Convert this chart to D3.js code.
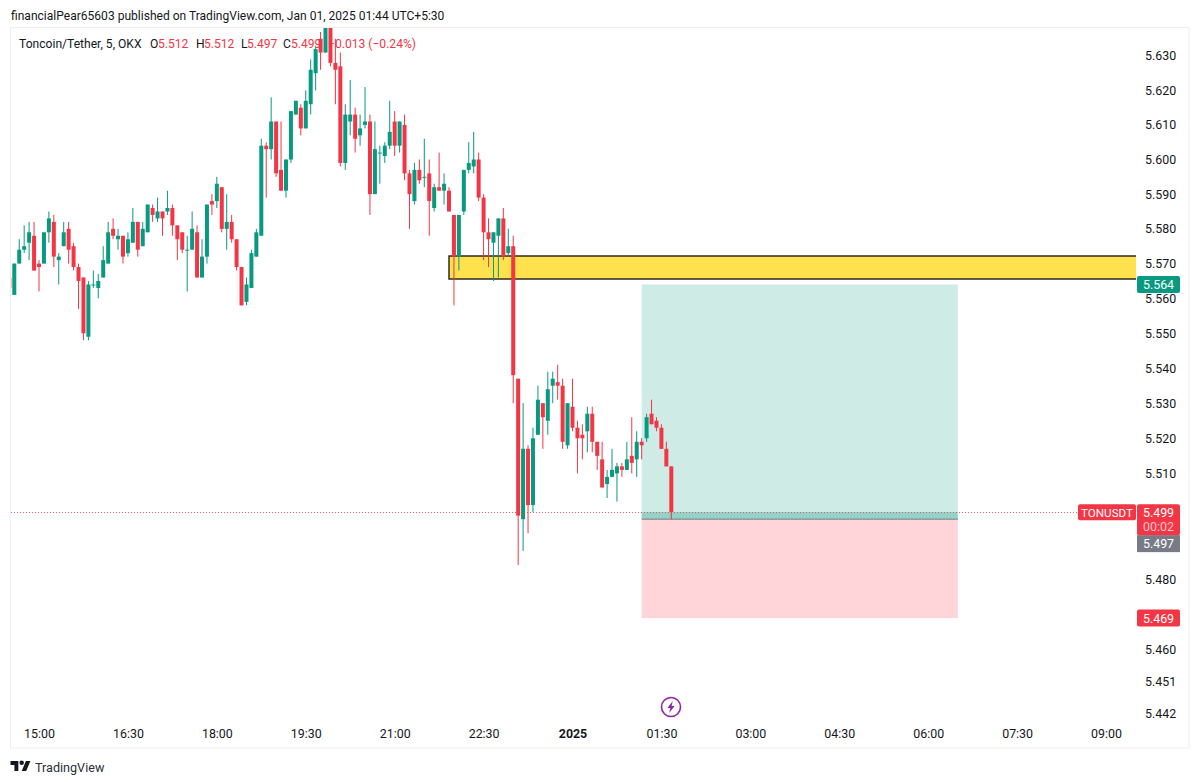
<!DOCTYPE html>
<html>
<head>
  <title>Toncoin/Tether, 5, OKX</title>
  <meta charset="utf-8">
  <script src="https://d3js.org/d3.v7.min.js"></script>
</head>
<body>
  <svg height="784" width="1200"></svg>

<script>
// 5 minute bars, the first one is 14:30 on Dec 31
var firstBar = new Date(Date.UTC(2024, 11, 31, 14, 30));
var opens = [
  5.566,5.561,5.570,5.574,5.576,5.578,5.570,5.570,5.579,5.582,5.571,5.575,5.580,5.575,5.569,5.566,5.549,5.564,5.563,5.566,
  5.570,5.580,5.577,5.578,5.573,5.576,5.582,5.575,5.579,5.586,5.583,5.585,5.585,5.586,5.581,5.579,5.574,5.574,5.579,5.566,
  5.572,5.588,5.588,5.592,5.580,5.582,5.577,5.569,5.559,5.563,5.572,5.578,5.604,5.603,5.611,5.597,5.591,5.600,5.613,5.615,
  5.609,5.616,5.625,5.635,5.631,5.640,5.628,5.627,5.599,5.611,5.613,5.607,5.610,5.611,5.590,5.602,5.601,5.604,5.611,5.604,
  5.610,5.596,5.588,5.597,5.595,5.596,5.586,5.592,5.591,5.591,5.584,5.572,5.585,5.597,5.598,5.600,5.589,5.579,5.576,5.578,
  5.583,5.573,5.575,5.537,5.497,5.517,5.501,5.521,5.530,5.525,5.535,5.536,5.535,5.518,5.529,5.523,5.521,5.522,5.527,5.519,
  5.514,5.507,5.509,5.510,5.512,5.511,5.515,5.514,5.519,5.520,5.527,5.525,5.523,5.517,5.512
];
var highs = [
  5.566,5.570,5.577,5.581,5.582,5.582,5.571,5.579,5.585,5.584,5.573,5.582,5.582,5.576,5.570,5.566,5.565,5.568,5.567,5.575,
  5.582,5.583,5.580,5.578,5.579,5.586,5.582,5.582,5.587,5.587,5.589,5.585,5.591,5.587,5.581,5.579,5.578,5.585,5.581,5.577,
  5.587,5.590,5.595,5.592,5.590,5.584,5.577,5.569,5.566,5.574,5.580,5.606,5.605,5.618,5.611,5.611,5.600,5.614,5.617,5.616,
  5.620,5.629,5.633,5.637,5.640,5.640,5.635,5.631,5.616,5.623,5.615,5.613,5.621,5.613,5.611,5.604,5.605,5.617,5.614,5.611,
  5.613,5.597,5.599,5.600,5.606,5.600,5.593,5.602,5.596,5.592,5.584,5.584,5.597,5.605,5.608,5.602,5.590,5.583,5.579,5.583,
  5.586,5.580,5.578,5.537,5.530,5.518,5.523,5.535,5.530,5.539,5.539,5.541,5.537,5.530,5.537,5.525,5.524,5.529,5.529,5.519,
  5.519,5.511,5.517,5.513,5.513,5.519,5.526,5.522,5.520,5.527,5.531,5.526,5.524,5.519,5.512
];
var lows = [
  5.563,5.561,5.570,5.573,5.571,5.568,5.562,5.570,5.576,5.569,5.564,5.575,5.570,5.568,5.557,5.548,5.548,5.563,5.560,5.566,
  5.570,5.577,5.574,5.570,5.572,5.576,5.572,5.575,5.579,5.582,5.582,5.578,5.584,5.578,5.571,5.573,5.562,5.574,5.566,5.566,
  5.570,5.584,5.586,5.579,5.574,5.576,5.568,5.558,5.558,5.563,5.572,5.578,5.589,5.600,5.595,5.591,5.589,5.599,5.613,5.607,
  5.609,5.613,5.620,5.626,5.631,5.627,5.616,5.598,5.597,5.607,5.602,5.604,5.609,5.584,5.590,5.593,5.599,5.603,5.601,5.602,
  5.594,5.580,5.587,5.593,5.592,5.578,5.585,5.591,5.587,5.585,5.558,5.568,5.584,5.596,5.596,5.588,5.571,5.569,5.565,5.566,
  5.571,5.572,5.530,5.484,5.488,5.493,5.499,5.521,5.517,5.521,5.530,5.531,5.517,5.517,5.522,5.510,5.514,5.516,5.516,5.511,
  5.506,5.503,5.509,5.502,5.509,5.511,5.510,5.509,5.514,5.519,5.524,5.522,5.517,5.512,5.497
];
var closes = [
  5.563,5.570,5.574,5.575,5.579,5.568,5.569,5.579,5.583,5.572,5.572,5.579,5.574,5.569,5.565,5.550,5.564,5.564,5.565,5.571,
  5.579,5.578,5.578,5.572,5.577,5.582,5.574,5.580,5.587,5.584,5.585,5.583,5.586,5.581,5.577,5.574,5.574,5.580,5.566,5.572,
  5.587,5.587,5.593,5.580,5.582,5.577,5.569,5.558,5.564,5.573,5.579,5.604,5.603,5.611,5.596,5.591,5.600,5.614,5.617,5.609,
  5.617,5.626,5.632,5.631,5.639,5.628,5.626,5.599,5.613,5.613,5.606,5.609,5.611,5.590,5.603,5.602,5.604,5.608,5.604,5.611,
  5.596,5.590,5.597,5.594,5.595,5.588,5.592,5.591,5.593,5.585,5.572,5.584,5.597,5.599,5.600,5.589,5.579,5.577,5.579,5.583,
  5.572,5.575,5.538,5.498,5.517,5.501,5.520,5.531,5.526,5.534,5.537,5.535,5.519,5.530,5.523,5.520,5.520,5.527,5.519,5.515,
  5.506,5.509,5.511,5.512,5.511,5.514,5.513,5.519,5.518,5.526,5.524,5.523,5.517,5.512,5.499
];

var priceTicks = [5.63,5.62,5.61,5.6,5.59,5.58,5.57,5.56,5.55,5.54,5.53,5.52,5.51,5.48,5.46,5.451,5.442];
var timeTicks = ["15:00","16:30","18:00","19:30","21:00","22:30","2025","01:30","03:00","04:30","06:00","07:30","09:00"];

// drawings on the chart
var zoneTop = 5.5722, zoneBottom = 5.5656, zoneStart = new Date(Date.UTC(2024, 11, 31, 21, 55));
var entry = 5.497, target = 5.564, stop = 5.469, lastPrice = 5.499;
var posStart = new Date(Date.UTC(2025, 0, 1, 1, 10)), posEnd = new Date(Date.UTC(2025, 0, 1, 6, 30));

var green = "#089981", red = "#F23645", grey = "#787B86", ink = "#131722";
var font = "Roboto, sans-serif";

var bars = opens.map(function (d, i) {
  return {t: new Date(firstBar.getTime() + i * 300000), o: d, h: highs[i], l: lows[i], c: closes[i]};
});

var svg = d3.select("svg").style("display", "block").style("background", "#fff").style("font-family", font);

var x = d3.scaleUtc()
  .domain([new Date(Date.UTC(2024, 11, 31, 15, 0)), new Date(Date.UTC(2025, 0, 1, 9, 0))])
  .range([39, 1106]);

// the price pane was on a log scale, the tick spacing grows a little going down
var y = d3.scaleLog().domain([5.442, 5.63]).range([714, 56]);

var paneLeft = 11, paneRight = 1136, paneTop = 28, paneBottom = 748;

svg.append("clipPath").attr("id", "pane").append("rect")
  .attr("x", paneLeft).attr("y", paneTop)
  .attr("width", paneRight - paneLeft).attr("height", paneBottom - paneTop);

// frame
svg.append("rect").attr("x", 10.5).attr("y", 27.5).attr("width", 1178.5).attr("height", 720.5)
  .attr("fill", "none").attr("stroke", "#eeeeee");

svg.append("text").attr("x", 11).attr("y", 20).attr("font-size", 12.05).attr("fill", ink)
  .text("financialPear65603 published on TradingView.com, Jan 01, 2025 01:44 UTC+5:30");

// legend sits under the candles
var legend = [
  ["Toncoin/Tether, 5, OKX", 19, ink], ["O", 150, ink], ["5.512", 158, red], ["H", 196, ink], ["5.512", 204, red],
  ["L", 241, ink], ["5.497", 247, red], ["C", 283, ink], ["5.499", 291, red], ["\u22120.013 (\u22120.24%)", 328, red]
];
svg.append("g").selectAll("text").data(legend).join("text")
  .attr("x", function (d) { return d[1]; }).attr("y", 48)
  .attr("font-size", 12.1).attr("fill", function (d) { return d[2]; })
  .text(function (d) { return d[0]; });

// yellow zone goes below the candles, open on the right side
var zoneX = x(zoneStart);
svg.append("rect")
  .attr("x", zoneX).attr("y", y(zoneTop))
  .attr("width", paneRight - zoneX).attr("height", y(zoneBottom) - y(zoneTop))
  .attr("fill", "#FFE04D");
svg.append("path")
  .attr("d", "M" + paneRight + "," + y(zoneTop) + "H" + zoneX + "V" + y(zoneBottom) + "H" + paneRight)
  .attr("fill", "none").attr("stroke", "#2b2b1e").attr("stroke-width", 1.5);

// long position tool
var posX = x(posStart), posW = x(posEnd) - posX;
svg.append("rect").attr("x", posX).attr("width", posW)
  .attr("y", y(target)).attr("height", y(entry) - y(target))
  .attr("fill", green).attr("fill-opacity", 0.2);
svg.append("rect").attr("x", posX).attr("width", posW)
  .attr("y", y(entry)).attr("height", y(stop) - y(entry))
  .attr("fill", "#FF2D45").attr("fill-opacity", 0.2);
svg.append("rect").attr("x", posX).attr("width", posW)
  .attr("y", y(lastPrice)).attr("height", y(entry) - y(lastPrice))
  .attr("fill", green).attr("fill-opacity", 0.3);
svg.append("line").attr("x1", posX).attr("x2", posX + posW)
  .attr("y1", y(entry)).attr("y2", y(entry)).attr("stroke", grey);

var plot = svg.append("g").attr("clip-path", "url(#pane)");

plot.selectAll("line.wick").data(bars).join("line").attr("class", "wick")
  .attr("x1", function (d) { return x(d.t); }).attr("x2", function (d) { return x(d.t); })
  .attr("y1", function (d) { return y(d.h); }).attr("y2", function (d) { return y(d.l); })
  .attr("stroke", function (d) { return d.c >= d.o ? green : red; });

plot.selectAll("rect.body").data(bars).join("rect").attr("class", "body")
  .attr("x", function (d) { return x(d.t) - 2; }).attr("width", 4)
  .attr("y", function (d) { return y(Math.max(d.o, d.c)); })
  .attr("height", function (d) { return Math.max(1, Math.abs(y(d.o) - y(d.c))); })
  .attr("fill", function (d) { return d.c >= d.o ? green : red; });

// last price line
svg.append("line").attr("x1", paneLeft).attr("x2", paneRight)
  .attr("y1", Math.round(y(lastPrice)) + 0.5).attr("y2", Math.round(y(lastPrice)) + 0.5)
  .attr("stroke", red).attr("stroke-dasharray", "1 2").attr("stroke-opacity", 0.8);

// axes
var yAxis = d3.axisRight(y).tickValues(priceTicks).tickSize(0).tickPadding(0).tickFormat(d3.format(".3f"));
var yG = svg.append("g").attr("transform", "translate(1145,0)").call(yAxis);
yG.select(".domain").remove();
yG.selectAll("text").attr("font-size", 12.4).attr("font-family", font).attr("fill", ink);

var tickDates = timeTicks.map(function (d, i) { return new Date(Date.UTC(2024, 11, 31, 15, 0) + i * 5400000); });
var xAxis = d3.axisBottom(x).tickValues(tickDates).tickSize(0).tickPadding(0)
  .tickFormat(function (d, i) { return timeTicks[i]; });
var xG = svg.append("g").attr("transform", "translate(0,729)").call(xAxis);
xG.select(".domain").remove();
xG.selectAll("text").attr("font-size", 12.4).attr("font-family", font).attr("fill", ink)
  .attr("font-weight", function (d, i) { return timeTicks[i] == "2025" ? "bold" : "normal"; });

// price labels
function priceBox(label, x0, w, top, bottom, fill, size) {
  svg.append("rect").attr("x", x0).attr("y", top).attr("width", w).attr("height", bottom - top)
    .attr("rx", 2).attr("fill", fill);
  svg.append("text").attr("x", x0 + w / 2).attr("y", (top + bottom) / 2 + 4.5)
    .attr("text-anchor", "middle").attr("font-size", size).attr("fill", "#fff").text(label);
}
var f3 = d3.format(".3f");
priceBox(f3(target), 1137, 43, y(target) - 8.5, y(target) + 8.5, green, 12.4);
priceBox(f3(stop), 1137, 43, y(stop) - 8.5, y(stop) + 8.5, red, 12.4);
priceBox("TONUSDT", 1078, 58, y(lastPrice) - 8, y(lastPrice) + 8, red, 11.6);

var lastTop = y(lastPrice) - 8;
svg.append("rect").attr("x", 1137).attr("y", lastTop + 31).attr("width", 43).attr("height", 17).attr("fill", grey);
svg.append("text").attr("x", 1158.5).attr("y", lastTop + 44).attr("text-anchor", "middle")
  .attr("font-size", 12.4).attr("fill", "#fff").text(f3(entry));
svg.append("rect").attr("x", 1137).attr("y", lastTop).attr("width", 43).attr("height", 31).attr("rx", 2).attr("fill", red);
svg.append("text").attr("x", 1158.5).attr("y", lastTop + 12.5).attr("text-anchor", "middle")
  .attr("font-size", 12.4).attr("fill", "#fff").text(f3(lastPrice));
svg.append("text").attr("x", 1158.5).attr("y", lastTop + 27).attr("text-anchor", "middle")
  .attr("font-size", 12.4).attr("fill", "#ffc4c9").text("00:02");

// lightning badge
var badge = svg.append("g").attr("transform", "translate(671,707)");
badge.append("circle").attr("r", 9.5).attr("fill", "#fff").attr("stroke", "#8E24AA").attr("stroke-width", 1.6);
badge.append("path").attr("d", "M1.8,-6 L-3.6,1 L-0.6,1 L-1.8,6 L3.6,-1 L0.6,-1 Z").attr("fill", "#8E24AA");

// logo and wordmark
var logo = svg.append("g").attr("transform", "translate(10.5,758.8) scale(0.56)").attr("fill", ink);
logo.append("path").attr("d", "M14 22H7V11H0V4h14v18zM28 22h-8l7.5-18h8L28 22z");
logo.append("circle").attr("cx", 20).attr("cy", 7).attr("r", 4);
svg.append("text").attr("x", 35).attr("y", 772).attr("font-size", 12.6).attr("fill", "#2a2e39").text("TradingView");
</script>

<style>
body { margin: 0; background: #fff; }
</style>
</body>
</html>
